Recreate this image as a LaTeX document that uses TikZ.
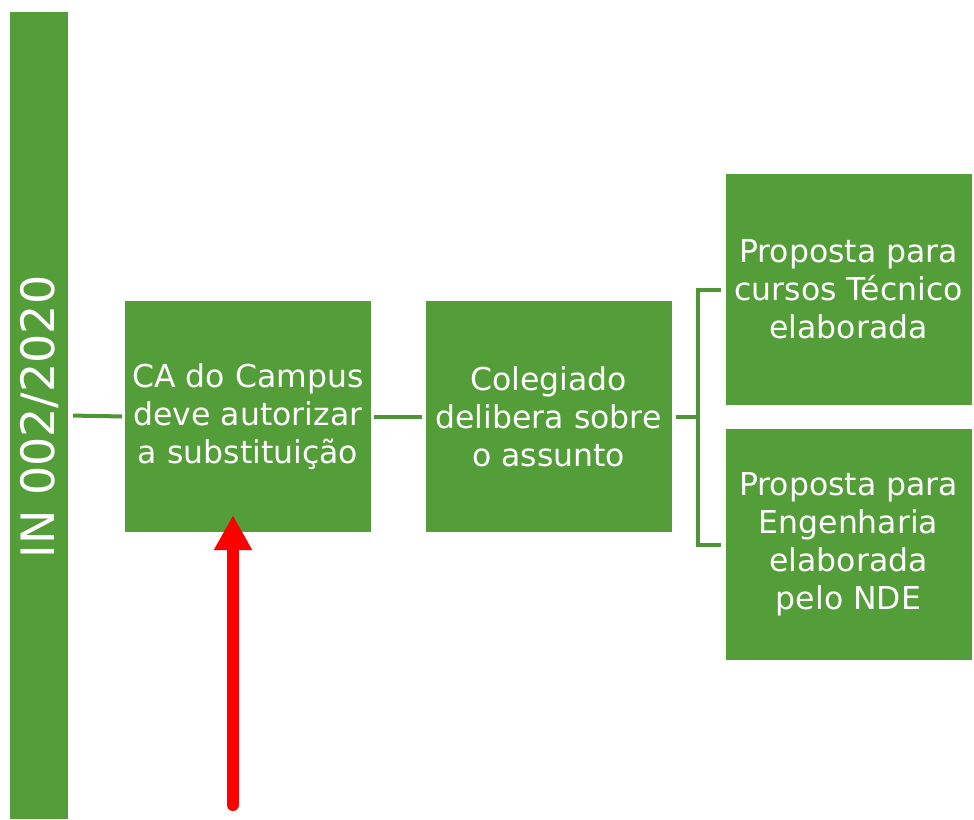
\documentclass[tikz,border=0pt]{standalone}
\usepackage{fontspec}
\setmainfont{DejaVu Sans}
\usetikzlibrary{arrows.meta,calc}
\definecolor{boxgreen}{HTML}{549E39}
\definecolor{linegreen}{HTML}{4F9437}
\begin{document}
\begin{tikzpicture}[x=1pt,y=-1pt,
  gbox/.style={fill=boxgreen,draw=none,minimum width=246pt,minimum height=231pt,
    text=white,align=center,inner sep=0pt,font=\fontsize{31.5}{38}\selectfont},
  conn/.style={draw=linegreen,line width=4pt}]
\useasboundingbox (0,0) rectangle (974,819);
\node[fill=boxgreen,minimum width=58pt,minimum height=807pt,inner sep=0pt] (bar) at (39,415.5) {};
\node[rotate=90,text=white,font=\fontsize{46}{50}\selectfont] (bartext) at (40,417) {IN 002/2020};
\node[gbox] (b1) at (248,416.5) {CA do Campus\\deve autorizar\\a substituição};
\node[gbox] (b2) at (548.5,416.5) {Colegiado\\delibera sobre\\o assunto};
\node[gbox] (b3) at (848.5,289.5) {Proposta para\\cursos Técnico\\elaborada};
\node[gbox] (b4) at (848.5,544.5) {Proposta para\\Engenharia\\elaborada\\pelo NDE};
\draw[conn,shorten <=5pt,shorten >=3pt] (bar.east) -- (b1.west);
\draw[conn,shorten <=3pt,shorten >=3pt] (b1.east) -- (b2.west);
\coordinate (bx) at (698,416.5);
\draw[conn,shorten <=4pt] (b2.east) -- (bx);
\draw[conn] ([xshift=-4pt]b3.west) -| (bx) |- ([xshift=-4pt]b4.west);
\coordinate (ae) at (233,805);
\draw[red,line width=12pt,line cap=round,-{Triangle[length=35pt,width=36pt]}] (ae) -- ([yshift=17pt]b1.south -| ae);
\end{tikzpicture}
\end{document}
